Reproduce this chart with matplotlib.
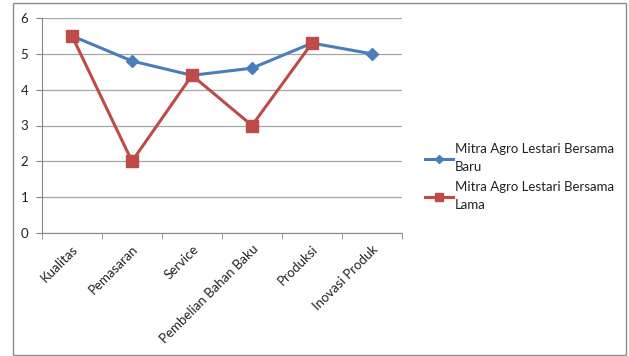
import matplotlib
matplotlib.use("Agg")
import matplotlib.pyplot as plt
from matplotlib.patches import Rectangle
import numpy as np

categories = ["Kualitas", "Pemasaran", "Service", "Pembelian Bahan Baku", "Produksi", "Inovasi Produk"]
baru = [5.5, 4.8, 4.4, 4.6, 5.3, 5.0]
lama = [5.5, 2.0, 4.4, 3.0, 5.3, np.nan]
series_names = ["Mitra Agro Lestari Bersama\nBaru", "Mitra Agro Lestari Bersama\nLama"]

plt.rcParams['font.family'] = ['Lato', 'DejaVu Sans']

W, H = 629, 356
fig = plt.figure(figsize=(W/100, H/100), dpi=100)
fig.patch.set_facecolor("white")

# outer chart border
fig.patches.append(Rectangle((12.5/W, 1 - 355/H), (626-12.5)/W, (355-3)/H,
                             transform=fig.transFigure, fill=False,
                             edgecolor="#8c8c8c", linewidth=1.0))

ax = fig.add_axes([42/W, 1 - 233/H, (402-42)/W, (233-18)/H])
x = np.arange(len(categories))
ax.plot(x, baru, color="#4a7ebb", linewidth=2.2, marker="D", markersize=6,
        markerfacecolor="#4a7ebb", markeredgecolor="#4a7ebb", label=series_names[0], zorder=3)
ax.plot(x, lama, color="#be4b48", linewidth=2.2, marker="s", markersize=8,
        markerfacecolor="#be4b48", markeredgecolor="#be4b48", label=series_names[1], zorder=3)

ax.set_xlim(-0.5, len(categories) - 0.5)
ax.set_ylim(0, 6)
ax.set_yticks(range(0, 7))
ax.yaxis.grid(True, color="#a6a6a6", linewidth=0.9)
ax.set_axisbelow(True)
for s in ["top", "right"]:
    ax.spines[s].set_visible(False)
ax.spines["left"].set_color("#868686")
ax.spines["bottom"].set_color("#868686")

ax.set_xticks(x)
ax.set_xticklabels(categories, rotation=45, ha="right", rotation_mode="anchor", fontsize=9.5, color="#222222")
ax.tick_params(axis="x", length=0, pad=7)
ax.set_xticks(np.arange(-0.5, len(categories)), minor=True)
ax.tick_params(axis="x", which="minor", length=4, color="#868686")
ax.tick_params(axis="y", length=4, color="#868686", labelsize=9.5, labelcolor="#222222", pad=6)

leg = fig.legend(loc="upper left", bbox_to_anchor=(420/W, 1 - 138/H), frameon=False,
                 fontsize=9.5, handlelength=2.1, handletextpad=0.15, labelspacing=0.6,
                 borderaxespad=0, markerscale=0.7,
                 prop={"size": 9.5})
for t in leg.get_texts():
    t.set_color("#222222")
    t.set_linespacing(1.6)

fig.savefig("out.png", dpi=100, facecolor="white")
